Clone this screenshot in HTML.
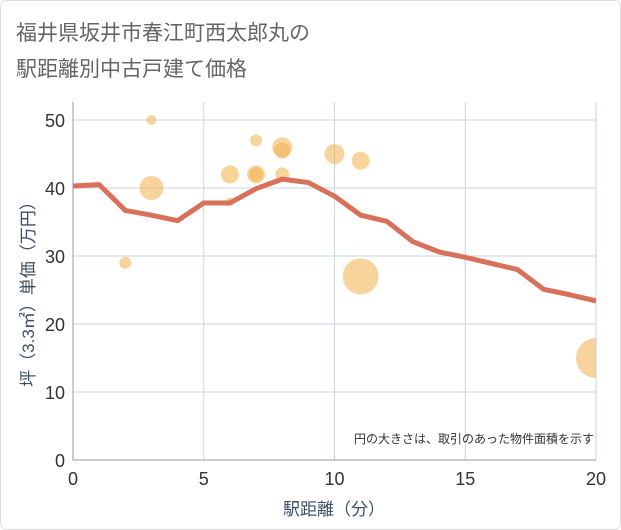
<!DOCTYPE html>
<html><head><meta charset="utf-8"><style>
body{margin:0;background:#fff;font-family:"Liberation Sans","Noto Sans CJK JP",sans-serif}
</style></head><body>
<svg width="621" height="530" style="display:block">
<defs><clipPath id="clip"><rect x="73" y="102" width="523" height="358"/></clipPath></defs>
<rect x="0.5" y="0.5" width="620" height="529" rx="6" fill="#fff" stroke="#ddd"/>
<text x="16" y="40" font-size="21" fill="#666">福井県坂井市春江町西太郎丸の</text>
<text x="16" y="76" font-size="21" fill="#666">駅距離別中古戸建て価格</text>
<g id="plot"></g>
<text x="594" y="443" font-size="12" fill="#333" text-anchor="end">円の大きさは、取引のあった物件面積を示す</text>
<text x="334" y="515" font-size="17" fill="#3d4f66" text-anchor="middle">駅距離（分）</text>
<text transform="translate(34,290) rotate(-90)" font-size="17" fill="#3d4f66" text-anchor="middle">坪（3.3㎡）単価（万円）</text>
</svg>
<script>
const xTicks=[0,5,10,15,20];
const yTicks=[0,10,20,30,40,50];
const lineX=[0,1,2,3,4,5,6,7,8,9,10,11,12,13,14,15,16,17,18,19,20];
const lineY=[40.3,40.5,36.7,36,35.2,37.8,37.8,39.9,41.3,40.8,38.8,36,35.1,32.1,30.6,29.8,28.9,28,25.1,24.3,23.4];
const bubbleX=[3,3,2,7,8,8,6,7,7,8,6,10,11,11,20];
const bubbleY=[50,40,29,47,46,45.5,42,42,42,42,38,45,44,27,15];
const bubbleR=[5,12,6,6,10,8,9,9,7,7,4,10,9,18,20];
const L=73,R=596,T=102,B=460;
const sx=v=>L+(R-L)*v/20, sy=v=>B-(B-120)*v/50;
const ns="http://www.w3.org/2000/svg", g=document.getElementById('plot');
function mk(t,a,p){const e=document.createElementNS(ns,t);for(const k in a)e.setAttribute(k,a[k]);(p||g).appendChild(e);return e;}
xTicks.forEach(v=>{const e=mk('line',{x1:sx(v),x2:sx(v),y1:T,y2:B,stroke:'#c8d6e6'});


const t=mk('text',{x:sx(v),y:B+25,'font-size':18,fill:'#333','text-anchor':'middle'});t.textContent=v;

});
yTicks.forEach(v=>{const e=mk('line',{x1:L,x2:R,y1:sy(v),y2:sy(v),stroke:'#c8d6e6'});


const t=mk('text',{x:L-8,y:sy(v)+7,'font-size':18,fill:'#333','text-anchor':'end'});t.textContent=v;

});
const ax=mk('path',{d:`M${L},${T}V${B}H${R}`,fill:'none',stroke:'#999'});


const cg=mk('g',{'clip-path':'url(#clip)'});


bubbleX.forEach((x,i)=>{const c=mk('circle',{cx:sx(x),cy:sy(bubbleY[i]),r:bubbleR[i],fill:'#f0b04a','fill-opacity':0.55},cg);

});
const pl=mk('polyline',{points:lineX.map((x,i)=>sx(x)+','+sy(lineY[i])).join(' '),fill:'none',stroke:'#d9705a','stroke-width':5,'stroke-linejoin':'round'},cg);


</script>
</body></html>
